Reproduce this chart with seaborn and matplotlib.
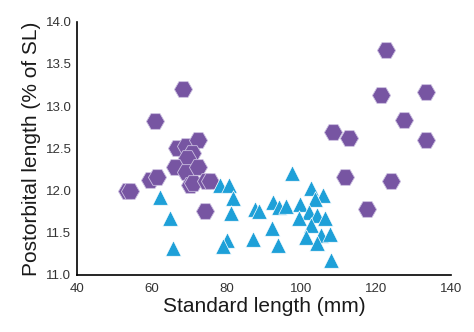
import matplotlib
matplotlib.use("Agg")
import matplotlib.pyplot as plt
import seaborn as sns
import pandas as pd

# Group A (purple hexagons)
hex_x = [53.4, 54.2, 59.5, 61.3, 61.0, 68.4, 66.7, 69.1, 72.4, 70.7, 69.5, 66.2,
         69.3, 72.4, 70.2, 71.1, 74.5, 75.5, 74.2,
         122.8, 121.2, 133.5, 127.5, 108.5, 112.8, 133.5, 111.7, 124.0, 117.5]
hex_y = [12.00, 12.00, 12.13, 12.16, 12.82, 13.20, 12.50, 12.53, 12.60, 12.44, 12.38, 12.28,
         12.22, 12.28, 12.07, 12.09, 12.11, 12.11, 11.76,
         13.67, 13.13, 13.17, 12.84, 12.69, 12.62, 12.60, 12.16, 12.11, 11.78]

# Group B (blue triangles)
tri_x = [62.2, 64.9, 65.7, 78.2, 80.6, 81.8, 81.1, 80.2, 79.0, 87.6, 88.7, 87.1,
         97.6, 102.5, 105.9, 103.6, 92.5, 94.1, 95.9, 99.6, 102.1, 104.1, 99.3,
         106.4, 92.1, 102.6, 93.7, 101.2, 105.2, 107.6, 104.3, 107.9]
tri_y = [11.92, 11.67, 11.32, 12.07, 12.06, 11.91, 11.74, 11.41, 11.34, 11.78, 11.76, 11.43,
         12.21, 12.03, 11.95, 11.90, 11.87, 11.80, 11.82, 11.84, 11.75, 11.71, 11.67,
         11.68, 11.56, 11.59, 11.36, 11.45, 11.47, 11.49, 11.38, 11.18]

x_ticks = [40, 60, 80, 100, 120, 140]
y_ticks = [11.0, 11.5, 12.0, 12.5, 13.0, 13.5, 14.0]

df = pd.DataFrame({
    "x": hex_x + tri_x,
    "y": hex_y + tri_y,
    "group": ["A"] * len(hex_x) + ["B"] * len(tri_x),
})

sns.set_style("white")
plt.rcParams["font.family"] = ["Liberation Sans", "DejaVu Sans"]

fig = plt.figure(figsize=(4.74, 3.32), dpi=100)
ax = fig.add_axes([0.1624, 0.1717, 0.7886, 0.763])

sns.scatterplot(data=df[df.group == "A"], x="x", y="y", ax=ax, marker="H",
                color="#7755a2", s=170, edgecolor="#cbbfe0", linewidth=0.6, legend=False, zorder=3)
sns.scatterplot(data=df[df.group == "B"], x="x", y="y", ax=ax, marker="^",
                color="#1ea0d8", s=125, edgecolor="white", linewidth=0.5, legend=False, zorder=3)

ax.set_xlim(40, 140)
ax.set_ylim(11.0, 14.0)
ax.set_xticks(x_ticks)
ax.set_yticks(y_ticks)
ax.set_xticklabels([str(t) for t in x_ticks])
ax.set_yticklabels([f"{t:.1f}" for t in y_ticks])
for s in ["top", "right"]:
    ax.spines[s].set_visible(False)
for s in ["left", "bottom"]:
    ax.spines[s].set_color("black")
    ax.spines[s].set_linewidth(1.2)
ax.tick_params(axis="both", direction="in", length=4, width=1.2, color="black",
               labelsize=9.5, labelcolor="#333333", pad=6)
ax.tick_params(axis="y", pad=4)
ax.set_xlabel("Standard length (mm)", fontsize=15, color="#1a1a1a", labelpad=1)
ax.set_ylabel("Postorbital length (% of SL)", fontsize=15, color="#1a1a1a", labelpad=3)
ax.grid(False)

fig.savefig("out.png", dpi=100)
